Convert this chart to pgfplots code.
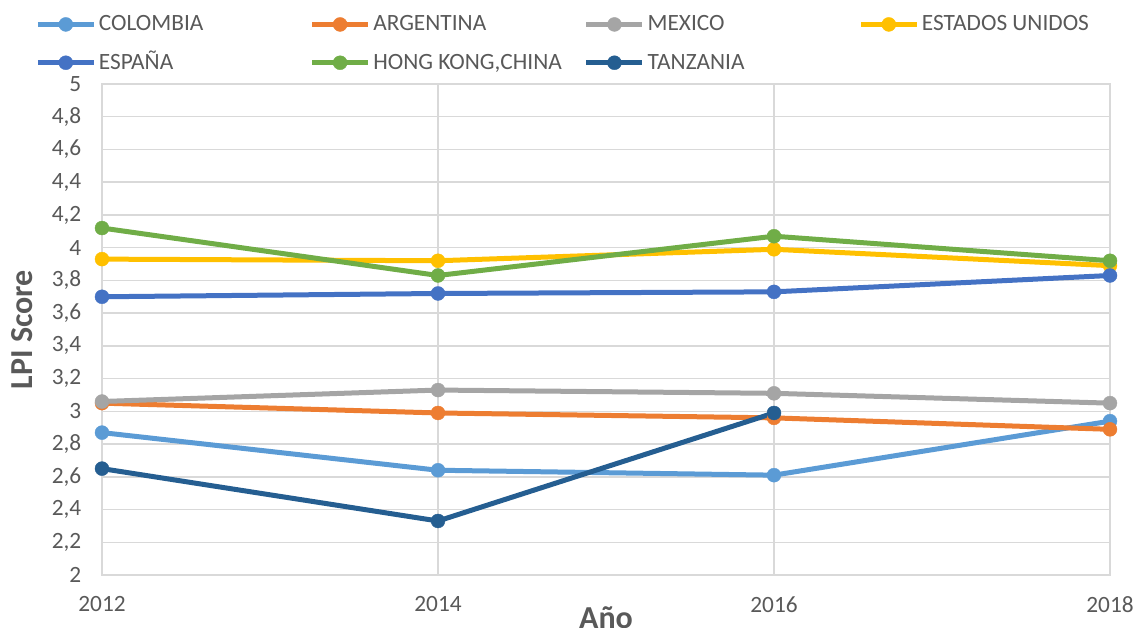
\documentclass[border=0pt]{standalone}
\usepackage{pgfplots}
\pgfplotsset{compat=1.18}
\usepackage{fontspec}
\setmainfont{Carlito}
\definecolor{cCol}{HTML}{5B9BD5}
\definecolor{cArg}{HTML}{ED7D31}
\definecolor{cMex}{HTML}{A5A5A5}
\definecolor{cUsa}{HTML}{FFC000}
\definecolor{cEsp}{HTML}{4472C4}
\definecolor{cHk}{HTML}{70AD47}
\definecolor{cTza}{HTML}{255E91}
\definecolor{gridgray}{HTML}{D9D9D9}
\definecolor{txtgray}{HTML}{595959}
\newcommand{\legtxt}[1]{\makebox[156pt][l]{\smash{#1}\vphantom{A}}}
\begin{document}
\begin{tikzpicture}
\path[use as bounding box] (0,0) rectangle (852pt,471pt);
\begin{axis}[
 at={(76.5pt,39.75pt)}, anchor=south west,
 scale only axis, width=756pt, height=368.25pt,
 xmin=2012, xmax=2018, ymin=2, ymax=5,
 xtick={2012,2014,2016,2018},
 ytick={2,2.2,2.4,2.6,2.8,3,3.2,3.4,3.6,3.8,4,4.2,4.4,4.6,4.8,5},
 grid=major, major grid style={draw=gridgray, line width=1.1pt},
 axis line style={draw=gridgray, line width=1.1pt},
 major tick length=0pt,
 tick label style={font=\fontsize{17.5}{21}\selectfont, text=txtgray},
 /pgf/number format/assume math mode=true,
 /pgf/number format/use comma,
 /pgf/number format/1000 sep={},
 xticklabel style={yshift=-12.5pt},
 yticklabel style={xshift=-12pt},
 ylabel={LPI Score},
 ylabel style={font=\bfseries\fontsize{24}{28}\selectfont, text=txtgray, at={(rel axis cs:-0.0794,0.5)}, anchor=center},
 xlabel={Año},
 xlabel style={font=\bfseries\fontsize{24}{28}\selectfont, text=txtgray, at={(rel axis cs:0.5,-0.108)}, anchor=base},
 legend columns=4,
 legend style={at={(rel axis cs:-0.0704,1.15)}, anchor=north west, draw=none, fill=none,
   font=\fontsize{17.5}{21}\selectfont, text=txtgray,
   /tikz/every even column/.style={column sep=0pt}, row sep=12pt},
 legend image code/.code={\draw[mark repeat=2,mark phase=2,#1] plot coordinates {(0pt,0pt) (21pt,0pt) (42pt,0pt)};},
 every axis plot/.append style={line width=3.75pt, line join=round, mark=*, mark size=5.25pt, mark options={line width=0.3pt}},
]
\addplot[color=cCol] coordinates {(2012,2.87) (2014,2.64) (2016,2.61) (2018,2.94)};
\addlegendentry{\legtxt{COLOMBIA}}
\addplot[color=cArg] coordinates {(2012,3.05) (2014,2.99) (2016,2.96) (2018,2.89)};
\addlegendentry{\legtxt{ARGENTINA}}
\addplot[color=cMex] coordinates {(2012,3.06) (2014,3.13) (2016,3.11) (2018,3.05)};
\addlegendentry{\legtxt{MEXICO}}
\addplot[color=cUsa] coordinates {(2012,3.93) (2014,3.92) (2016,3.99) (2018,3.89)};
\addlegendentry{\legtxt{ESTADOS UNIDOS}}
\addplot[color=cEsp] coordinates {(2012,3.70) (2014,3.72) (2016,3.73) (2018,3.83)};
\addlegendentry{\legtxt{ESPAÑA}}
\addplot[color=cHk] coordinates {(2012,4.12) (2014,3.83) (2016,4.07) (2018,3.92)};
\addlegendentry{\legtxt{HONG KONG,CHINA}}
\addplot[color=cTza] coordinates {(2012,2.65) (2014,2.33) (2016,2.99)};
\addlegendentry{\legtxt{TANZANIA}}
\end{axis}
\end{tikzpicture}
\end{document}
